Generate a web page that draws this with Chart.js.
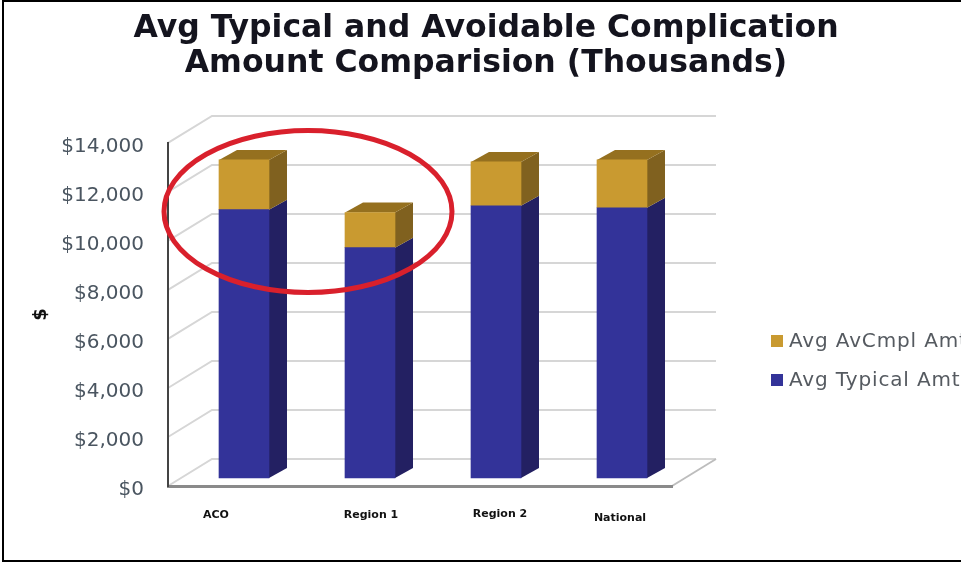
<!DOCTYPE html>
<html>
<head>
<meta charset="utf-8">
<style>
  html, body { margin: 0; padding: 0; background: #fff; overflow: hidden; }
  canvas { display: block; filter: blur(0.45px); }
</style>
<script src="https://cdn.jsdelivr.net/npm/chart.js@4/dist/chart.umd.min.js"></script>
</head>
<body>
<canvas id="chart" width="961" height="563"></canvas>
<script>
const categories = ['ACO', 'Region 1', 'Region 2', 'National'];
const typicalAmt = [10950, 9400, 11110, 11030];
const avCmplAmt = [2030, 1430, 1790, 1950];

// look of the fake 3D box
const wallShift = { x: 44, y: -27 };
const barShift = { x: 13, y: -8 };
const barDepth = { x: 18, y: -10 };
const labelNudge = [{ x: -15, y: 515 }, { x: 14, y: 515 }, { x: 17, y: 514 }, { x: 11, y: 518 }];

const box3d = {
    id: 'box3d',
    beforeDraw(chart) {
        const { ctx, scales: { y } } = chart;
        const area = chart.chartArea;
        ctx.save();
        // frame of the screenshot
        ctx.strokeStyle = '#000';
        ctx.lineWidth = 2;
        ctx.beginPath();
        ctx.moveTo(961, 1);
        ctx.lineTo(3, 1);
        ctx.lineTo(3, 561);
        ctx.lineTo(961, 561);
        ctx.stroke();

        ctx.strokeStyle = '#d6d6d6';
        ctx.lineWidth = 2;
        y.ticks.forEach(t => {
            const py = y.getPixelForValue(t.value);
            ctx.beginPath();
            ctx.moveTo(area.left, py);
            ctx.lineTo(area.left + wallShift.x, py + wallShift.y);
            ctx.lineTo(area.right + wallShift.x, py + wallShift.y);
            ctx.stroke();
        });
        ctx.beginPath();
        ctx.moveTo(area.right, area.bottom);
        ctx.lineTo(area.right + wallShift.x, area.bottom + wallShift.y);
        ctx.strokeStyle = '#bdbdbd';
        ctx.stroke();
        ctx.restore();
    },
    beforeDatasetsDraw(chart) {
        const { ctx } = chart;
        ctx.save();
        ctx.translate(barShift.x, barShift.y);
        chart.data.datasets.forEach((ds, i) => {
            const bars = chart.getDatasetMeta(i).data;
            bars.forEach(bar => {
                const right = bar.x + bar.width / 2;
                const left = bar.x - bar.width / 2;
                ctx.fillStyle = ds.sideColor;
                ctx.beginPath();
                ctx.moveTo(right, bar.y);
                ctx.lineTo(right + barDepth.x, bar.y + barDepth.y);
                ctx.lineTo(right + barDepth.x, bar.base + barDepth.y);
                ctx.lineTo(right, bar.base);
                ctx.closePath();
                ctx.fill();
                if (i === chart.data.datasets.length - 1) {
                    ctx.fillStyle = ds.topColor;
                    ctx.beginPath();
                    ctx.moveTo(left, bar.y);
                    ctx.lineTo(left + barDepth.x, bar.y + barDepth.y);
                    ctx.lineTo(right + barDepth.x, bar.y + barDepth.y);
                    ctx.lineTo(right, bar.y);
                    ctx.closePath();
                    ctx.fill();
                }
            });
        });
    },
    afterDatasetsDraw(chart) {
        chart.ctx.restore();
    },
    afterDraw(chart) {
        const { ctx, scales: { x } } = chart;
        ctx.save();

        // category labels sit unevenly in the original
        ctx.font = 'bold 11px "DejaVu Sans"';
        ctx.fillStyle = '#111';
        ctx.textAlign = 'center';
        ctx.textBaseline = 'middle';
        categories.forEach((c, i) => {
            ctx.fillText(c, x.getPixelForValue(i) + labelNudge[i].x, labelNudge[i].y);
        });

        // legend, runs off the right edge like the original
        ctx.font = '20px "DejaVu Sans"';
        ctx.letterSpacing = '0.85px';
        ctx.textAlign = 'left';
        [1, 0].forEach((d, row) => {
            const ds = chart.data.datasets[d];
            const ly = 341 + row * 39;
            ctx.fillStyle = ds.backgroundColor;
            ctx.fillRect(771, ly - 6, 12, 12);
            ctx.fillStyle = '#555a60';
            ctx.fillText(ds.label, 789, ly + 1);
        });
        ctx.letterSpacing = '0px';

        // red circle somebody drew on the slide
        ctx.strokeStyle = '#d9202c';
        ctx.lineWidth = 5;
        ctx.beginPath();
        ctx.ellipse(308, 211.5, 144, 81, 0, 0, Math.PI * 2);
        ctx.stroke();
        ctx.restore();
    }
};

new Chart(document.getElementById('chart').getContext('2d'), {
    type: 'bar',
    data: {
        labels: categories,
        datasets: [
            { label: 'Avg Typical Amt', data: typicalAmt, backgroundColor: '#333399', sideColor: '#232062', topColor: '#232062', barThickness: 50, clip: false },
            { label: 'Avg AvCmpl Amt', data: avCmplAmt, backgroundColor: '#c99a30', sideColor: '#80611f', topColor: '#95701f', barThickness: 50, clip: false }
        ]
    },
    options: {
        responsive: false,
        animation: false,
        layout: { padding: { left: 11, right: 0, top: 0, bottom: 69 } },
        plugins: {
            legend: { display: false },
            tooltip: { enabled: false },
            title: {
                display: true,
                text: ['Avg Typical and Avoidable Complication', 'Amount Comparision (Thousands)'],
                color: '#14141e',
                font: { family: '"DejaVu Sans"', size: 31.5, weight: 'bold', lineHeight: 1.11 },
                padding: { top: 11, bottom: 62 }
            }
        },
        scales: {
            x: {
                stacked: true,
                grid: { display: false },
                ticks: { display: false },
                border: { color: '#8a8a8a', width: 3 }
            },
            y: {
                stacked: true,
                min: 0,
                max: 14000,
                afterFit(scale) { scale.width = 157; },
                grid: { display: false, drawTicks: false },
                border: { color: '#444', width: 2 },
                ticks: {
                    stepSize: 2000,
                    padding: 24,
                    labelOffset: 4,
                    color: '#4a5560',
                    font: { family: '"DejaVu Sans"', size: 20 },
                    callback: v => '$' + v.toLocaleString('en-US')
                },
                title: {
                    display: true,
                    text: '$',
                    color: '#111',
                    font: { family: '"DejaVu Sans"', size: 18, weight: 'bold' },
                    padding: { top: 20, bottom: 0 }
                }
            },
            // empty axis, only holds the room for the legend
            legendRoom: {
                position: 'right',
                afterFit(scale) { scale.width = 289; },
                grid: { display: false },
                border: { display: false },
                ticks: { display: false }
            }
        }
    },
    plugins: [box3d]
});
</script>
</body>
</html>
